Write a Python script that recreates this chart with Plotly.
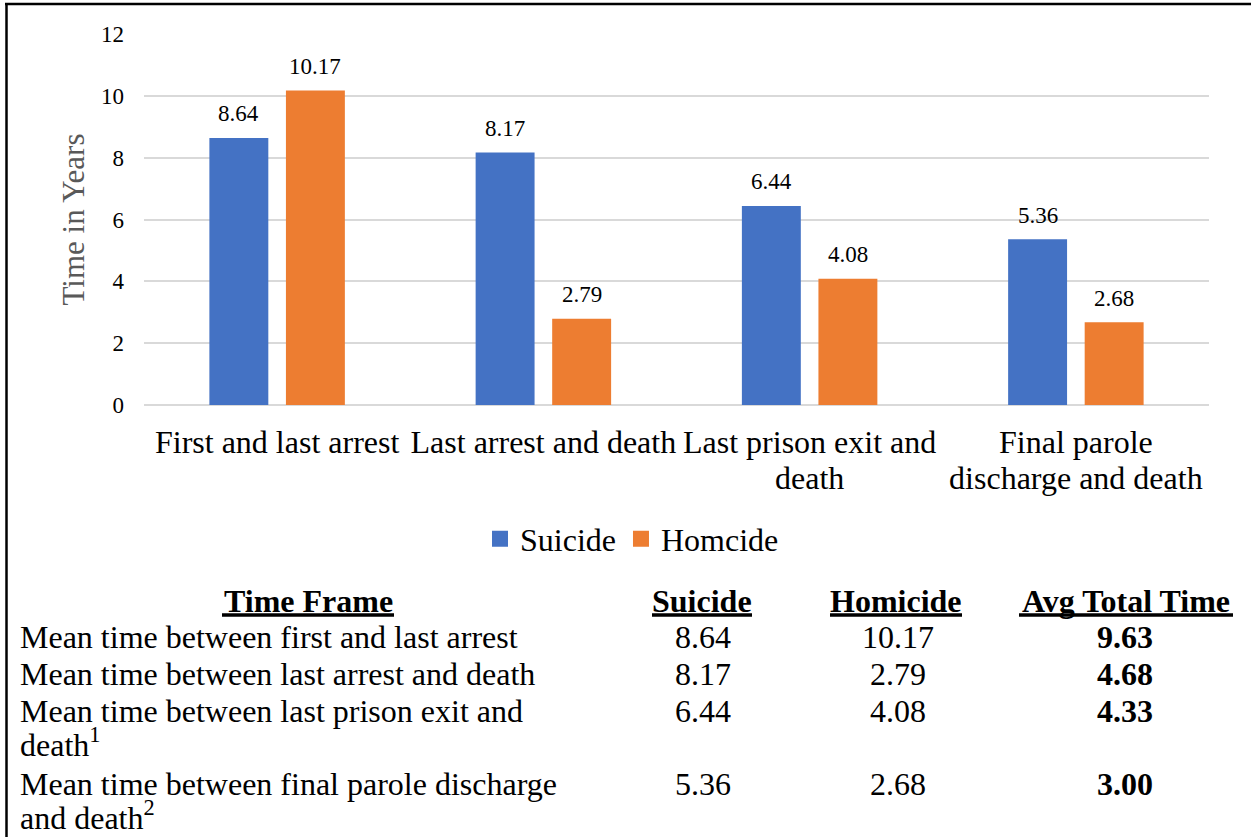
import plotly.graph_objects as go

# ---- data ----
categories = [
    "First and last arrest",
    "Last arrest and death",
    "Last prison exit and<br>death",
    "Final parole<br>discharge and death",
]
suicide = [8.64, 8.17, 6.44, 5.36]
homicide = [10.17, 2.79, 4.08, 2.68]
avg_total = [9.63, 4.68, 4.33, 3.00]

series_names = ["Suicide", "Homcide"]
y_ticks = [0, 2, 4, 6, 8, 10, 12]
y_title = "Time in Years"

table_headers = ["Time Frame", "Suicide", "Homicide", "Avg Total Time"]
table_rows = [
    ["Mean time between first and last arrest"],
    ["Mean time between last arrest and death"],
    ["Mean time between last prison exit and", "death<sup>1</sup>"],
    ["Mean time between final parole discharge", "and death<sup>2</sup>"],
]

# ---- layout constants (pixels) ----
W, H = 1251, 837
PL, PR, PT, PB = 144, 1209, 34, 405   # plot area edges
FONT = "Liberation Serif"
BLUE, ORANGE = "#4472C4", "#ED7D31"


def px_x(x):
    return (x - PL) / (PR - PL)


def px_y(y):
    return (PB - y) / (PB - PT)


def sized(text, size):
    """Wrap every line of a label in a span with its own font size, so the
    line pitch follows the (smaller) base font size of the element."""
    return "<br>".join(f"<span style='font-size:{size}px'>{part}</span>"
                       for part in text.split("<br>"))


fig = go.Figure()
for vals, name, color in ((suicide, series_names[0], BLUE),
                          (homicide, series_names[1], ORANGE)):
    fig.add_trace(go.Bar(x=categories, y=vals, name=name, legendgroup=name,
                         showlegend=False, marker_color=color,
                         marker_line_width=0))
# legend entries with larger square swatches
for name, color in ((series_names[0], BLUE), (series_names[1], ORANGE)):
    fig.add_trace(go.Scatter(x=[None], y=[None], mode="markers", name=name,
                             legendgroup=name,
                             marker=dict(symbol="square", size=16,
                                         color=color, line_width=0)))

annotations = []

# value labels above each bar
slot = (PR - PL) / len(categories) * (1 - 0.425) / 2
for vals, sign in ((suicide, -1), (homicide, 1)):
    for cat, v in zip(categories, vals):
        annotations.append(dict(
            x=cat, y=v, xref="x", yref="y", text=f"{v:.2f}",
            showarrow=False, xshift=sign * slot / 2, yshift=24,
            yanchor="middle", font=dict(family=FONT, size=23, color="black"),
        ))

# y-axis title
annotations.append(dict(
    x=px_x(73), y=0.5, xref="paper", yref="paper", text=y_title,
    textangle=-90, showarrow=False, xanchor="center", yanchor="middle",
    font=dict(family=FONT, size=31, color="#595959"),
))

# ---- table below the chart ----
header_cx = [308, 702, 896, 1126]
header_half = [86, 50, 66, 107]
header_y = 601
row_y = [637, 674, 711, 784]
line_pitch = 34
col_cx = [703, 898, 1125]

for text, cx in zip(table_headers, header_cx):
    annotations.append(dict(
        x=px_x(cx), y=px_y(header_y), xref="paper", yref="paper",
        text=f"<b>{text}</b>", showarrow=False, xanchor="center",
        yanchor="middle", font=dict(family=FONT, size=32, color="black"),
    ))

for lines, y, s, h, a in zip(table_rows, row_y, suicide, homicide, avg_total):
    n = len(lines)
    annotations.append(dict(
        x=px_x(18), y=px_y(y + (n - 1) * line_pitch / 2),
        xref="paper", yref="paper", text=sized("<br>".join(lines), 32),
        showarrow=False, xanchor="left", yanchor="middle", align="left",
        font=dict(family=FONT, size=26, color="black"),
    ))
    for val, cx, bold in zip((s, h, a), col_cx, (False, False, True)):
        txt = f"{val:.2f}"
        annotations.append(dict(
            x=px_x(cx), y=px_y(y), xref="paper", yref="paper",
            text=f"<b>{txt}</b>" if bold else txt, showarrow=False,
            xanchor="center", yanchor="middle",
            font=dict(family=FONT, size=32, color="black"),
        ))

shapes = []
# header underlines
for cx, hw in zip(header_cx, header_half):
    shapes.append(dict(type="line", xref="paper", yref="paper",
                       x0=px_x(cx - hw), x1=px_x(cx + hw),
                       y0=px_y(615), y1=px_y(615),
                       line=dict(color="black", width=3.5)))
# frame lines on the left and top
shapes.append(dict(type="line", xref="paper", yref="paper",
                   x0=px_x(6.5), x1=px_x(6.5), y0=px_y(3), y1=px_y(H + 5),
                   line=dict(color="black", width=2.5)))
shapes.append(dict(type="line", xref="paper", yref="paper",
                   x0=px_x(5), x1=px_x(W + 5), y0=px_y(4), y1=px_y(4),
                   line=dict(color="black", width=2.5)))

fig.update_layout(
    width=W, height=H,
    margin=dict(l=PL, r=W - PR, t=PT, b=H - PB, autoexpand=False),
    paper_bgcolor="white", plot_bgcolor="white",
    barmode="group", bargap=0.425, bargroupgap=0.23,
    font=dict(family=FONT, color="black"),
    showlegend=True,
    legend=dict(orientation="h", x=px_x(632), y=px_y(539),
                xanchor="center", yanchor="middle",
                font=dict(family=FONT, size=32, color="black"),
                bgcolor="rgba(0,0,0,0)"),
    annotations=annotations,
    shapes=shapes,
)
fig.update_xaxes(
    showgrid=False, showline=False, ticks="",
    tickvals=categories, ticktext=[sized(c, 32) for c in categories],
    tickfont=dict(family=FONT, size=28, color="black"),
    ticklabelstandoff=19, automargin=False,
)
fig.update_yaxes(
    range=[0, 12], tickvals=y_ticks, showgrid=True, gridcolor="#D9D9D9",
    gridwidth=2, zeroline=True, zerolinecolor="#D9D9D9", zerolinewidth=2,
    showline=False, ticks="", ticklabelstandoff=19,
    tickfont=dict(family=FONT, size=23, color="black"),
    automargin=False,
)

fig.write_html("out.html")
